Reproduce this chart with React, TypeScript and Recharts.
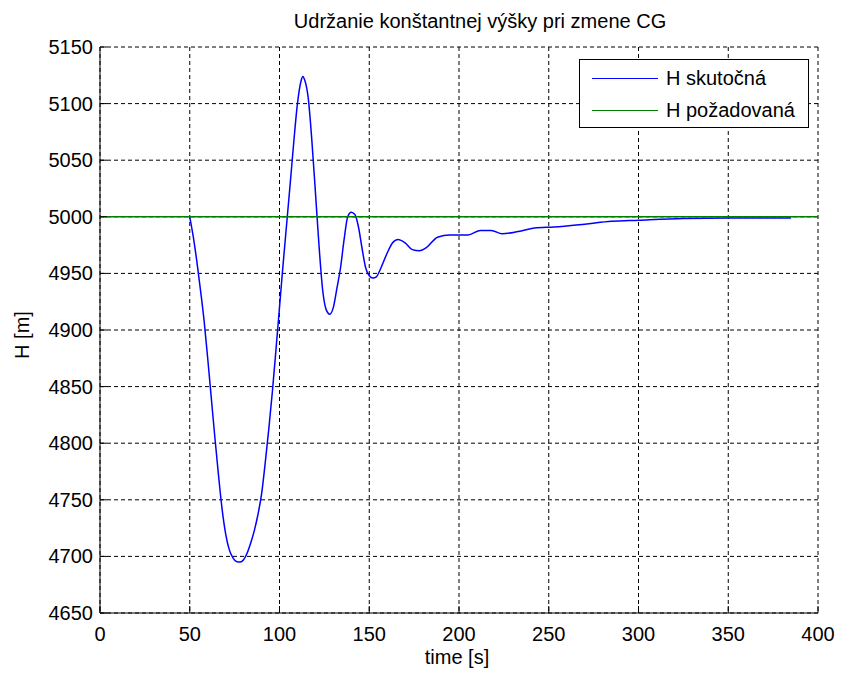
import { CartesianGrid, Legend, Line, LineChart, XAxis, YAxis } from "recharts";

// Altitude hold while the CG shifts: measured H vs. commanded H.
const timeS = [
  50, 52, 54, 56, 58, 60, 62, 64, 66, 68, 70, 72, 74, 76, 78, 80, 82, 84, 86, 88, 90, 92, 94, 96, 98,
  100, 102, 104, 106, 108, 110, 112, 113, 114, 116, 118, 120, 122, 124, 126, 128, 130, 132, 134, 136,
  138, 140, 142, 144, 146, 148, 150, 152, 154, 156, 160, 163, 166, 170, 174, 178, 182, 188, 195, 205,
  212, 218, 224, 233, 242, 253, 270, 285, 300, 325, 350, 385,
];
const heightActual = [
  5000, 4982, 4960, 4935, 4908, 4875, 4840, 4805, 4772, 4742, 4720, 4706, 4699, 4695.5, 4695, 4697,
  4703, 4712, 4723, 4737, 4755, 4782, 4812, 4845, 4882, 4920, 4958, 4994, 5030, 5067, 5100, 5120,
  5124, 5121, 5105, 5068, 5022, 4975, 4936, 4918, 4914, 4920, 4937, 4955, 4980, 5000, 5004, 5002,
  4991, 4972, 4955, 4948, 4946, 4947, 4953, 4968, 4977, 4980, 4977, 4971, 4970, 4973, 4982, 4984,
  4984, 4988, 4988, 4985, 4987, 4990, 4991, 4993.5, 4996, 4997, 4998.5, 4999, 4999,
];
const timeTarget = [0, 400];
const heightTarget = [5000, 5000];

const seriesNames = ["H skutočná", "H požadovaná"];
const seriesColors = ["#0000ff", "#008000"];

const xTicks = [0, 50, 100, 150, 200, 250, 300, 350, 400];
const yTicks = [4650, 4700, 4750, 4800, 4850, 4900, 4950, 5000, 5050, 5100, 5150];

const actualData = timeS.map((t, i) => ({ t, h: heightActual[i] }));
const targetData = timeTarget.map((t, i) => ({ t, h: heightTarget[i] }));

const FONT = "'Liberation Sans', Arial, sans-serif";
const TICK_LEN = 7;

function BottomTick({ x, y, payload }: any) {
  return (
    <g>
      <line x1={x} y1={y} x2={x} y2={y - TICK_LEN} stroke="#000" />
      <text x={x} y={y + 28} textAnchor="middle" fontSize={20} fontFamily={FONT} fill="#000">
        {payload.value}
      </text>
    </g>
  );
}

function LeftTick({ x, y, payload }: any) {
  return (
    <g>
      <line x1={x} y1={y} x2={x + TICK_LEN} y2={y} stroke="#000" />
      <text x={x - 7} y={y + 7} textAnchor="end" fontSize={20} fontFamily={FONT} fill="#000">
        {payload.value}
      </text>
    </g>
  );
}

function TopTick({ x, y }: any) {
  return <line x1={x} y1={y} x2={x} y2={y + TICK_LEN} stroke="#000" />;
}

function RightTick({ x, y }: any) {
  return <line x1={x} y1={y} x2={x - TICK_LEN} y2={y} stroke="#000" />;
}

function LegendBox() {
  return (
    <div
      style={{
        width: 228,
        height: 67,
        border: "1px solid #000",
        background: "#fff",
        fontFamily: FONT,
        fontSize: 20,
        boxSizing: "content-box",
      }}
    >
      {seriesNames.map((name, i) => (
        <div key={name} style={{ display: "flex", alignItems: "center", height: 32, marginTop: i === 0 ? 2 : 0 }}>
          <span style={{ display: "inline-block", width: 66, height: 1, background: seriesColors[i], marginLeft: 12 }} />
          <span style={{ marginLeft: 8 }}>{name}</span>
        </div>
      ))}
    </div>
  );
}

export default function App() {
  return (
    <div style={{ position: "absolute", left: 0, top: 0, width: 841, height: 676, background: "#fff" }}>
      <div
        style={{
          position: "absolute",
          top: 10,
          left: 0,
          width: 960,
          textAlign: "center",
          fontFamily: FONT,
          fontSize: 20,
        }}
      >
        Udržanie konštantnej výšky pri zmene CG
      </div>
      <div
        style={{
          position: "absolute",
          top: 646,
          left: 0,
          width: 914,
          textAlign: "center",
          fontFamily: FONT,
          fontSize: 20,
        }}
      >
        time [s]
      </div>
      <div
        style={{
          position: "absolute",
          left: 22,
          top: 335,
          transform: "translate(-50%, -50%) rotate(-90deg)",
          fontFamily: FONT,
          fontSize: 20,
          whiteSpace: "nowrap",
        }}
      >
        H [m]
      </div>
      <LineChart
        width={841}
        height={676}
        margin={{ top: 47, right: 23, bottom: 0, left: 0 }}
        style={{ position: "absolute", left: 0, top: 0 }}
      >
        <CartesianGrid stroke="#000" strokeDasharray="4 3" />
        <XAxis
          xAxisId={0}
          dataKey="t"
          type="number"
          domain={[0, 400]}
          ticks={xTicks}
          height={63}
          tickSize={0}
          tickMargin={0}
          tickLine={false}
          tick={<BottomTick />}
          axisLine={{ stroke: "#000" }}
          allowDataOverflow
        />
        <XAxis
          xAxisId="top"
          orientation="top"
          dataKey="t"
          type="number"
          domain={[0, 400]}
          ticks={xTicks}
          height={0}
          tickSize={0}
          tickMargin={0}
          tickLine={false}
          tick={<TopTick />}
          axisLine={{ stroke: "#000" }}
          allowDataOverflow
        />
        <YAxis
          yAxisId={0}
          type="number"
          domain={[4650, 5150]}
          ticks={yTicks}
          width={100}
          tickSize={0}
          tickMargin={0}
          tickLine={false}
          tick={<LeftTick />}
          axisLine={{ stroke: "#000" }}
          allowDataOverflow
        />
        <YAxis
          yAxisId="right"
          orientation="right"
          type="number"
          domain={[4650, 5150]}
          ticks={yTicks}
          width={0}
          tickSize={0}
          tickMargin={0}
          tickLine={false}
          tick={<RightTick />}
          axisLine={{ stroke: "#000" }}
          allowDataOverflow
        />
        <Legend
          layout="vertical"
          align="center"
          verticalAlign="middle"
          wrapperStyle={{ top: 59, left: 579, width: 230 }}
          content={() => <LegendBox />}
        />
        <Line
          data={actualData}
          dataKey="h"
          name={seriesNames[0]}
          type="monotone"
          stroke={seriesColors[0]}
          strokeWidth={1.5}
          dot={false}
          isAnimationActive={false}
        />
        <Line
          data={targetData}
          dataKey="h"
          name={seriesNames[1]}
          type="linear"
          stroke={seriesColors[1]}
          strokeWidth={1.5}
          dot={false}
          isAnimationActive={false}
        />
      </LineChart>
    </div>
  );
}
